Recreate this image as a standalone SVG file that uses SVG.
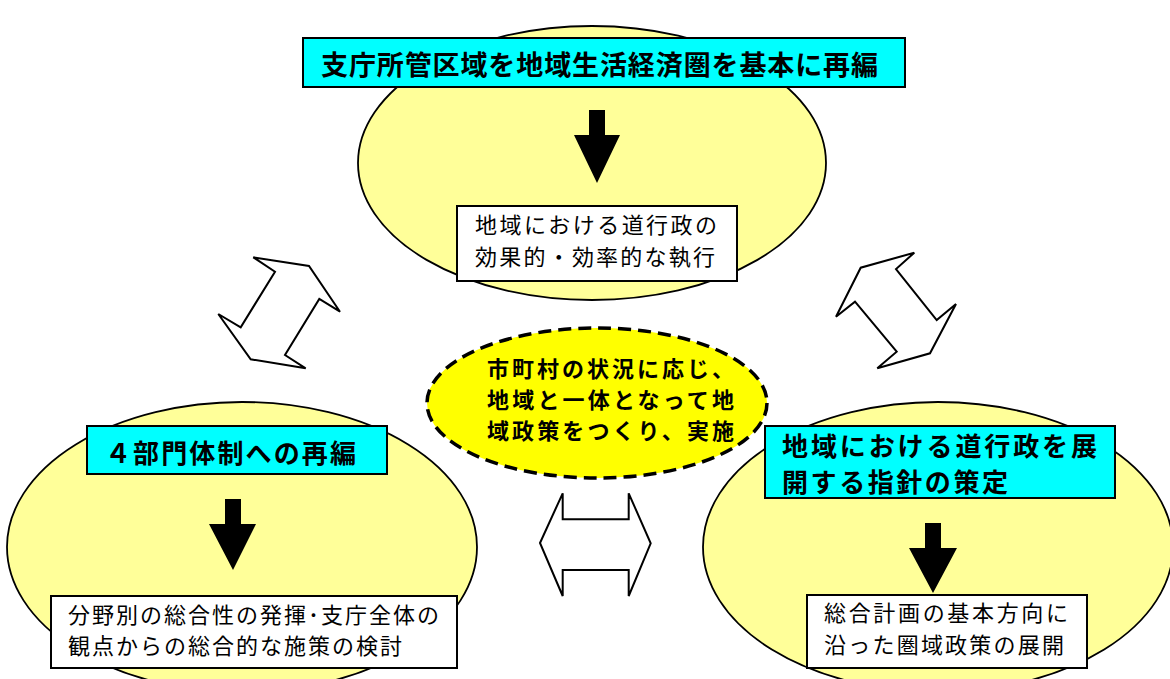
<svg xmlns="http://www.w3.org/2000/svg" width="1170" height="679" viewBox="0 0 1170 679">
<style>
.bg{fill:#FFFF99;stroke:#000;stroke-width:1.8}
.cy{fill:#00FFFF;stroke:#000;stroke-width:2}
.wb{fill:#FFFFFF;stroke:#000;stroke-width:2}
.ctr{fill:#FFFF00;stroke:#000;stroke-width:3.5;stroke-dasharray:13 7}
.ho{fill:#FFFFFF;stroke:#000;stroke-width:2;stroke-linejoin:miter}
.da{fill:#000;stroke:none}
.tb{font-family:"Noto Sans CJK JP","Noto Sans CJK SC",sans-serif;font-weight:bold;fill:#000}
.tr{font-family:"Noto Sans CJK JP","Noto Sans CJK SC",sans-serif;font-weight:normal;fill:#000}
</style>
<rect width="1170" height="679" fill="#FFFFFF"/>
<g id="node-top">
<ellipse class="bg" cx="592" cy="163" rx="234" ry="137"/>
<rect class="cy" x="303" y="38" width="602" height="49"/>
<text class="tb" x="321" y="75" font-size="27" textLength="557" lengthAdjust="spacing">支庁所管区域を地域生活経済圏を基本に再編</text>
<rect class="wb" x="457" y="206" width="280" height="75"/>
<text class="tr" x="475" y="233" font-size="22" textLength="242" lengthAdjust="spacing">地域における道行政の</text>
<text class="tr" x="475" y="265" font-size="22" textLength="240" lengthAdjust="spacing">効果的・効率的な執行</text>
</g>
<g id="node-left">
<ellipse class="bg" cx="242" cy="547" rx="235" ry="145"/>
<rect class="cy" x="87" y="426" width="300" height="48"/>
<text class="tb" x="105" y="463" font-size="26" textLength="251" lengthAdjust="spacing">４部門体制への再編</text>
<rect class="wb" x="51" y="596" width="406" height="72"/>
<text class="tr" x="68" y="623" font-size="22" textLength="371" lengthAdjust="spacing">分野別の総合性の発揮･支庁全体の</text>
<text class="tr" x="68" y="654" font-size="22" textLength="334" lengthAdjust="spacing">観点からの総合的な施策の検討</text>
</g>
<g id="node-right">
<ellipse class="bg" cx="938" cy="547" rx="235" ry="145"/>
<rect class="cy" x="765" y="426" width="350" height="72"/>
<text class="tb" x="782" y="456" font-size="26" textLength="315" lengthAdjust="spacing">地域における道行政を展</text>
<text class="tb" x="782" y="492" font-size="26" textLength="226" lengthAdjust="spacing">開する指針の策定</text>
<rect class="wb" x="807" y="595" width="280" height="73"/>
<text class="tr" x="824" y="621" font-size="22" textLength="244" lengthAdjust="spacing">総合計画の基本方向に</text>
<text class="tr" x="824" y="653" font-size="22" textLength="240" lengthAdjust="spacing">沿った圏域政策の展開</text>
</g>
<g id="node-center">
<ellipse class="ctr" cx="597" cy="403" rx="170" ry="75"/>
<text class="tb" x="487" y="377" font-size="22" textLength="247" lengthAdjust="spacing">市町村の状況に応じ、</text>
<text class="tb" x="487" y="408" font-size="22" textLength="247" lengthAdjust="spacing">地域と一体となって地</text>
<text class="tb" x="487" y="439" font-size="22" textLength="247" lengthAdjust="spacing">域政策をつくり、実施</text>
</g>
<g id="connectors">
<polygon class="da" points="589,110 605,110 605,135 620,135 597,183 574,135 589,135"/>
<polygon class="da" points="225,499 241,499 241,524 256,524 233,570 209,524 225,524"/>
<polygon class="da" points="925,523 941,523 941,548 957,548 933,593 909,548 925,548"/>
<polygon class="ho" points="253.3,257.3 309,266 340,311.7 319.3,299 285,355 305.7,368.3 250.7,359.3 218.3,314 240.7,327.3 275,271.7"/>
<polygon class="ho" points="914.3,252.7 896,269 936.7,320 956,304 930,353.3 877.3,368.3 896.7,351.7 855,301.7 836,316.7 860.7,267.7"/>
<polygon class="ho" points="540,543 562.7,493.3 562.7,519.3 628.7,519.3 628.7,493.3 650.7,543.3 628.7,596 628.7,570 562.7,570 562.7,596"/>
</g>
</svg>
